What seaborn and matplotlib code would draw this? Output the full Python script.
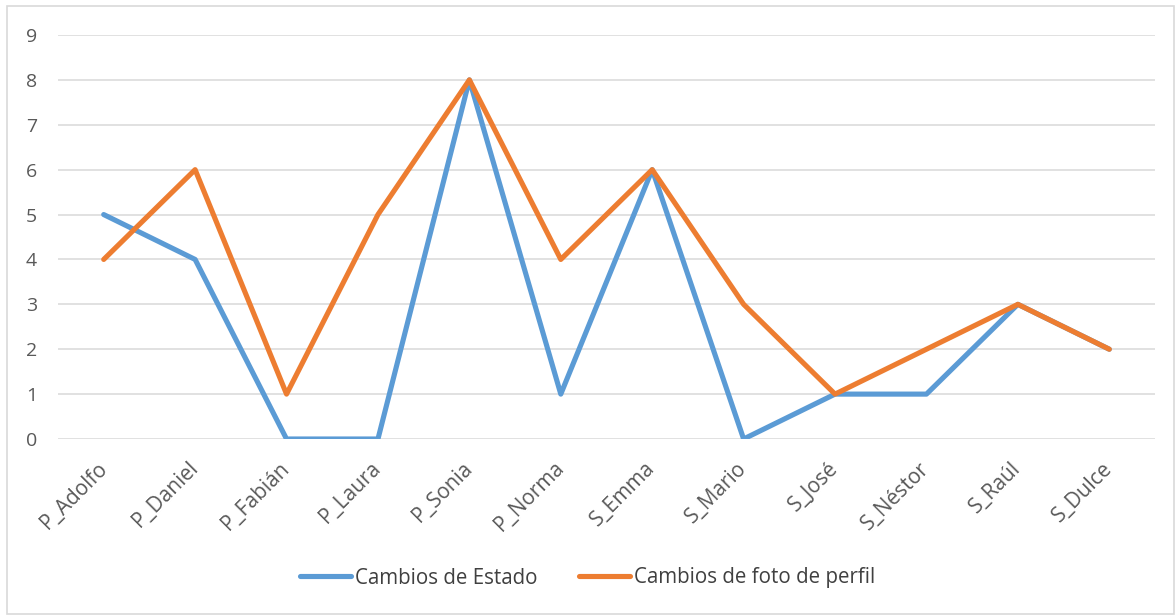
import pandas as pd
import seaborn as sns
import matplotlib.pyplot as plt
from matplotlib.patches import Rectangle

# data
personas = ["P_Adolfo", "P_Daniel", "P_Fabián", "P_Laura", "P_Sonia", "P_Norma",
            "S_Emma", "S_Mario", "S_José", "S_Néstor", "S_Raúl", "S_Dulce"]
cambios_estado = [5, 4, 0, 0, 8, 1, 6, 0, 1, 1, 3, 2]
cambios_foto = [4, 6, 1, 5, 8, 4, 6, 3, 1, 2, 3, 2]
series_names = ["Cambios de Estado", "Cambios de foto de perfil"]
colors = ["#5B9BD5", "#ED7D31"]

df = pd.concat([
    pd.DataFrame({"persona": personas, "valor": cambios_estado, "serie": series_names[0]}),
    pd.DataFrame({"persona": personas, "valor": cambios_foto, "serie": series_names[1]}),
])

sns.set_style("white")
plt.rcParams['font.family'] = ['Open Sans', 'DejaVu Sans']

fig = plt.figure(figsize=(11.75, 6.15), dpi=100)
ax = fig.add_axes([58 / 1175, 1 - 439 / 615, 1097 / 1175, 404 / 615])

sns.lineplot(data=df, x="persona", y="valor", hue="serie", palette=colors,
             sort=False, linewidth=3.7, ax=ax, legend=False)

ax.set_xlim(-0.5, len(personas) - 0.5)
ax.set_ylim(0, 9)
ax.set_yticks(range(0, 10))
ax.yaxis.grid(True, color="#D9D9D9", linewidth=1.1)
ax.set_axisbelow(True)
for s in ax.spines.values():
    s.set_visible(False)
ax.set_xlabel("")
ax.set_ylabel("")

ax.tick_params(axis="y", length=0, pad=15, labelsize=14, labelcolor="#595959")
ax.tick_params(axis="x", length=0, pad=19, labelsize=15, labelcolor="#595959")
ax.set_xticks(range(len(personas)))
ax.set_xticklabels(personas, rotation=45, ha="right", va="center", rotation_mode="anchor")

# legend at bottom
handles = [plt.Line2D([], [], color=c, linewidth=3.7) for c in colors]
fig.legend(handles, series_names, loc="center", bbox_to_anchor=(0.5, 1 - 578 / 615),
           ncol=2, frameon=False, fontsize=14.8, labelcolor="#404040",
           handlelength=2.5, handletextpad=0.2, columnspacing=2.0)

# chart border
fig.patches.append(Rectangle((7 / 1175, 0.002), 1 - 7 / 1175 - 0.001, 1 - 6 / 615 - 0.002,
                             transform=fig.transFigure, fill=False,
                             edgecolor="#D9D9D9", linewidth=1.2))

fig.savefig("out.png", dpi=100)
